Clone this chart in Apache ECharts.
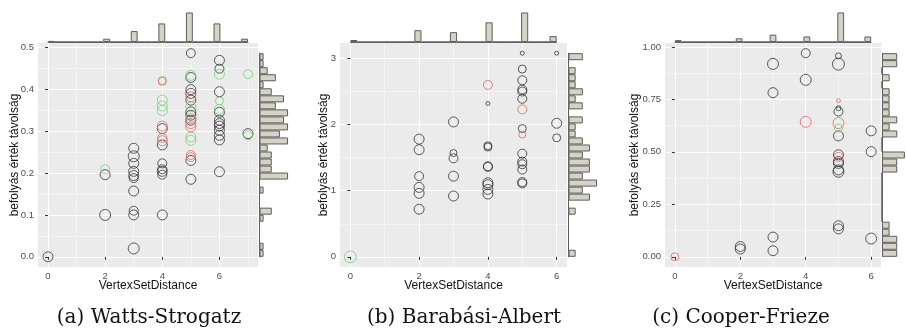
<!DOCTYPE html>
<html>
<head>
<meta charset="utf-8">
<script src="https://cdn.jsdelivr.net/npm/echarts@6/dist/echarts.min.js"></script>
<style>
  html, body { margin: 0; padding: 0; background: #fff; }
  #chart { width: 906px; height: 335px; }
</style>
</head>
<body>
<div id="chart"></div>
<script>
// values: [VertexSetDistance, befolyás érték távolság, méret, csoport]
const wsPoints = [
  [0,0.000,10,'k'],
  [2,0.209,9,'g'],[2,0.196,10,'k'],[2,0.100,11,'k'],
  [3,0.259,10,'k'],[3,0.240,11,'k'],[3,0.223,10,'k'],[3,0.204,10,'k'],[3,0.194,10,'k'],[3,0.188,9,'k'],[3,0.157,10,'k'],[3,0.110,9,'k'],[3,0.100,10,'k'],[3,0.020,11,'k'],
  [4,0.421,8,'g'],[4,0.419,8,'r'],[4,0.374,10,'g'],[4,0.360,10,'g'],[4,0.349,10,'g'],[4,0.312,10,'r'],[4,0.306,10,'k'],[4,0.284,9,'r'],[4,0.277,10,'r'],[4,0.267,10,'k'],[4,0.223,9,'k'],[4,0.209,9,'k'],[4,0.204,10,'k'],[4,0.196,9,'k'],[4,0.100,10,'k'],
  [5,0.486,9,'k'],[5,0.433,10,'g'],[5,0.428,10,'k'],[5,0.399,10,'k'],[5,0.390,10,'k'],[5,0.382,10,'r'],[5,0.374,10,'k'],[5,0.358,10,'g'],[5,0.346,10,'k'],[5,0.338,10,'k'],[5,0.330,10,'g'],[5,0.326,10,'k'],[5,0.318,10,'r'],[5,0.310,10,'r'],[5,0.286,10,'g'],[5,0.278,10,'g'],[5,0.243,9,'r'],[5,0.238,9,'r'],[5,0.230,10,'k'],[5,0.185,10,'k'],
  [6,0.469,10,'k'],[6,0.449,9,'k'],[6,0.436,10,'g'],[6,0.394,10,'k'],[6,0.372,8,'g'],[6,0.352,10,'g'],[6,0.345,10,'k'],[6,0.326,10,'k'],[6,0.318,10,'k'],[6,0.312,10,'k'],[6,0.302,10,'k'],[6,0.290,10,'k'],[6,0.279,10,'k'],[6,0.203,10,'k'],
  [7,0.436,9,'g'],[7,0.294,10,'k'],[7,0.290,9,'g']
];
const baPoints = [
  [0,0.00,12,'g'],
  [2,1.78,10,'k'],[2,1.62,10,'k'],[2,1.22,9,'k'],[2,1.05,10,'k'],[2,0.96,10,'k'],[2,0.72,10,'k'],
  [3,2.04,10,'k'],[3,1.57,7,'k'],[3,1.49,9,'k'],[3,1.22,10,'k'],[3,0.92,10,'k'],
  [4,2.60,9,'r'],[4,2.32,4,'k'],[4,1.68,8,'k'],[4,1.66,8,'k'],[4,1.37,9,'k'],[4,1.36,9,'k'],[4,1.12,10,'k'],[4,1.09,10,'k'],[4,1.02,10,'k'],[4,0.95,10,'k'],
  [5,3.08,4,'k'],[5,2.84,8,'k'],[5,2.67,9,'k'],[5,2.53,9,'k'],[5,2.50,9,'k'],[5,2.39,9,'k'],[5,2.23,9,'r'],[5,1.94,8,'k'],[5,1.85,7,'r'],[5,1.56,9,'k'],[5,1.44,9,'k'],[5,1.40,9,'k'],[5,1.32,9,'k'],[5,1.13,9,'k'],[5,1.11,9,'k'],
  [6,3.08,4,'k'],[6,2.02,10,'k'],[6,1.80,8,'k']
];
const cfPoints = [
  [0,0.000,8,'r'],
  [2,0.049,10,'k'],[2,0.037,10,'k'],
  [3,0.919,11,'k'],[3,0.782,10,'k'],[3,0.094,10,'k'],[3,0.029,10,'k'],
  [4,0.970,9,'k'],[4,0.843,11,'k'],[4,0.643,11,'r'],
  [5,0.957,6,'k'],[5,0.918,12,'k'],[5,0.744,4,'r'],[5,0.708,5,'k'],[5,0.692,9,'k'],[5,0.637,11,'r'],[5,0.613,8,'g'],[5,0.576,10,'k'],[5,0.486,10,'k'],[5,0.476,9,'r'],[5,0.454,10,'k'],[5,0.445,10,'k'],[5,0.414,10,'k'],[5,0.405,11,'k'],[5,0.148,10,'k'],[5,0.133,10,'k'],
  [6,0.600,10,'k'],[6,0.501,10,'k'],[6,0.087,11,'k']
];

// marginal histograms, 29 bins from min to max (bottom/left bin first)
const wsTopCounts   = [1,0,0,0,0,0,0,0,3,0,0,0,10,0,0,0,17,0,0,0,27,0,0,0,17,0,0,0,3];
const wsRightCounts = [1,1,0,0,0,1,3,0,0,1,0,7,3,3,3,2,7,5,7,6,7,4,6,3,1,4,2,1,1];
const baTopCounts   = [1,0,0,0,0,0,0,0,0,6,0,0,0,0,5,0,0,0,0,10,0,0,0,0,15,0,0,0,3];
const baRightCounts = [1,0,0,0,0,0,1,0,3,2,4,2,3,3,2,3,2,1,1,2,0,2,1,2,1,1,1,0,2];
const cfTopCounts   = [1,0,0,0,0,0,0,0,0,2,0,0,0,0,4,0,0,0,0,3,0,0,0,0,16,0,0,0,3];
const cfRightCounts = [2,2,2,1,1,0,0,0,0,0,0,0,2,2,3,0,0,2,1,2,1,1,1,1,0,1,0,2,2];

// axis breaks and tick labels
const wsXTicks = [0,2,4,6],   wsXMinor = [1,3,5,7];
const wsYTicks = [0,0.1,0.2,0.3,0.4,0.5], wsYLabels = ['0.0','0.1','0.2','0.3','0.4','0.5'];
const wsYMinor = [0.05,0.15,0.25,0.35,0.45];
const baXTicks = [0,2,4,6],   baXMinor = [1,3,5];
const baYTicks = [0,1,2,3],   baYLabels = ['0','1','2','3'], baYMinor = [0.5,1.5,2.5];
const cfXTicks = [0,2,4,6],   cfXMinor = [1,3,5];
const cfYTicks = [0,0.25,0.5,0.75,1], cfYLabels = ['0.00','0.25','0.50','0.75','1.00'];
const cfYMinor = [0.125,0.375,0.625,0.875];

const captions = ['(a) Watts-Strogatz', '(b) Barabási-Albert', '(c) Cooper-Frieze'];
const xTitle = 'VertexSetDistance';
const yTitle = 'befolyás érték távolság';

const groupColors = { k: '#333333', g: '#72d072', r: '#e6655c' };
const sans = 'Liberation Sans';

const panels = [
  { pts: wsPoints, top: wsTopCounts, right: wsRightCounts, xTicks: wsXTicks, xMinor: wsXMinor,
    yTicks: wsYTicks, yLabels: wsYLabels, yMinor: wsYMinor, caption: captions[0],
    box: { left: 38, top: 43, width: 220, height: 224 }, yNameGap: 17.5, histLeft: 259.5, capX: 149 },
  { pts: baPoints, top: baTopCounts, right: baRightCounts, xTicks: baXTicks, xMinor: baXMinor,
    yTicks: baYTicks, yLabels: baYLabels, yMinor: baYMinor, caption: captions[1],
    box: { left: 340, top: 43, width: 227, height: 224 }, yNameGap: 10.5, histLeft: 568.5, capX: 464 },
  { pts: cfPoints, top: cfTopCounts, right: cfRightCounts, xTicks: cfXTicks, xMinor: cfXMinor,
    yTicks: cfYTicks, yLabels: cfYLabels, yMinor: cfYMinor, caption: captions[2],
    box: { left: 665, top: 43, width: 216, height: 224 }, yNameGap: 24, histLeft: 882, capX: 741 }
];

// ggplot style 5% expansion of the data range
function expand(vals) {
  const lo = Math.min(...vals), hi = Math.max(...vals), pad = (hi - lo) * 0.05;
  return [lo, hi, lo - pad, hi + pad];
}

const option = { animation: false, grid: [], xAxis: [], yAxis: [], series: [], graphic: [] };

panels.forEach(p => {
  const [x0, x1, xMin, xMax] = expand(p.pts.map(d => d[0]));
  const [y0, y1, yMin, yMax] = expand(p.pts.map(d => d[1]));
  const b = p.box;
  const g = option.grid.length;

  option.grid.push({ left: b.left, top: b.top, width: b.width, height: b.height,
    show: true, backgroundColor: '#ebebeb', borderWidth: 0 });
  // top histogram spans the x data range
  const hl = b.left + (x0 - xMin) / (xMax - xMin) * b.width;
  const hw = (x1 - x0) / (xMax - xMin) * b.width;
  option.grid.push({ left: hl, top: b.top - 32, width: hw, height: 31 });
  // right histogram spans the y data range
  const vt = b.top + (yMax - y1) / (yMax - yMin) * b.height;
  const vh = (y1 - y0) / (yMax - yMin) * b.height;
  option.grid.push({ left: p.histLeft, top: vt, width: 30, height: vh });

  const xi = option.xAxis.length, yi = option.yAxis.length;
  const labelStyle = { fontSize: 9.5, color: '#4d4d4d', fontFamily: sans };
  const nameStyle = { fontSize: 12, lineHeight: 12, color: '#111', fontFamily: sans };

  // main axes (ticks + labels)
  option.xAxis.push({ type: 'value', gridIndex: g, min: xMin, max: xMax,
    axisLine: { show: false },
    axisTick: { show: true, length: 3, customValues: p.xTicks, lineStyle: { color: '#333' } },
    axisLabel: { customValues: p.xTicks, margin: 4, ...labelStyle },
    splitLine: { show: false },
    name: xTitle, nameLocation: 'middle', nameGap: 12.5, nameMoveOverlap: false, nameTextStyle: nameStyle });
  option.yAxis.push({ type: 'value', gridIndex: g, min: yMin, max: yMax,
    axisLine: { show: false },
    axisTick: { show: true, length: 3, customValues: p.yTicks, lineStyle: { color: '#333' } },
    axisLabel: { customValues: p.yTicks, margin: 4, ...labelStyle,
      formatter: v => p.yLabels[p.yTicks.indexOf(v)] },
    splitLine: { show: false },
    name: yTitle, nameLocation: 'middle', nameGap: p.yNameGap, nameMoveOverlap: false, nameTextStyle: nameStyle });

  // panel grid lines (major white, minor lighter)
  const xAll = [...p.xTicks, ...p.xMinor].sort((a, c) => a - c);
  const yAll = [...p.yTicks, ...p.yMinor].sort((a, c) => a - c);
  option.xAxis.push({ type: 'value', gridIndex: g, min: xMin, max: xMax,
    axisLine: { show: false }, axisLabel: { show: false },
    axisTick: { show: false, customValues: xAll },
    splitLine: { show: true, lineStyle: { color: ['#ffffff', '#f4f4f4'], width: 1 } } });
  option.yAxis.push({ type: 'value', gridIndex: g, min: yMin, max: yMax,
    axisLine: { show: false }, axisLabel: { show: false },
    axisTick: { show: false, customValues: yAll },
    splitLine: { show: true, lineStyle: { color: ['#ffffff', '#f4f4f4'], width: 1 } } });

  // top histogram axes
  const bins = p.top.map((_, i) => i);
  option.xAxis.push({ type: 'category', gridIndex: g + 1, data: bins, boundaryGap: true,
    axisLine: { show: true, lineStyle: { color: '#6b6b6b', width: 1 } },
    axisTick: { show: false }, axisLabel: { show: false }, splitLine: { show: false } });
  option.yAxis.push({ type: 'value', gridIndex: g + 1, min: 0, max: Math.max(...p.top) * 1.05,
    show: false, splitLine: { show: false } });
  // right histogram axes
  option.xAxis.push({ type: 'value', gridIndex: g + 2, min: 0, max: Math.max(...p.right) * 1.05,
    show: false, splitLine: { show: false } });
  option.yAxis.push({ type: 'category', gridIndex: g + 2, data: p.right.map((_, i) => i), boundaryGap: true,
    axisLine: { show: true, lineStyle: { color: '#6b6b6b', width: 1 } },
    axisTick: { show: false }, axisLabel: { show: false }, splitLine: { show: false } });

  const barStyle = { color: '#d5d3c5', borderColor: '#5c5c5c', borderWidth: 1 };
  option.series.push({ type: 'bar', xAxisIndex: xi + 2, yAxisIndex: yi + 2, data: p.top,
    barWidth: '100%', itemStyle: barStyle, silent: true });
  option.series.push({ type: 'bar', xAxisIndex: xi + 3, yAxisIndex: yi + 3, data: p.right,
    barWidth: '100%', itemStyle: barStyle, silent: true });

  ['k', 'g', 'r'].forEach(c => {
    option.series.push({ type: 'scatter', xAxisIndex: xi, yAxisIndex: yi,
      data: p.pts.filter(d => d[3] === c).map(d => [d[0], d[1], d[2]]),
      symbol: 'circle', symbolSize: v => v[2],
      itemStyle: { color: 'rgba(0,0,0,0)', borderColor: groupColors[c], borderWidth: 1 },
      silent: true });
  });

  option.graphic.push({ type: 'text', x: p.capX, y: 318,
    style: { text: p.caption, font: '20px "DejaVu Serif"', fill: '#111', align: 'center', verticalAlign: 'middle' } });
});

const chart = echarts.init(document.getElementById('chart'), null, { renderer: 'canvas' });
chart.setOption(option);
</script>
</body>
</html>
